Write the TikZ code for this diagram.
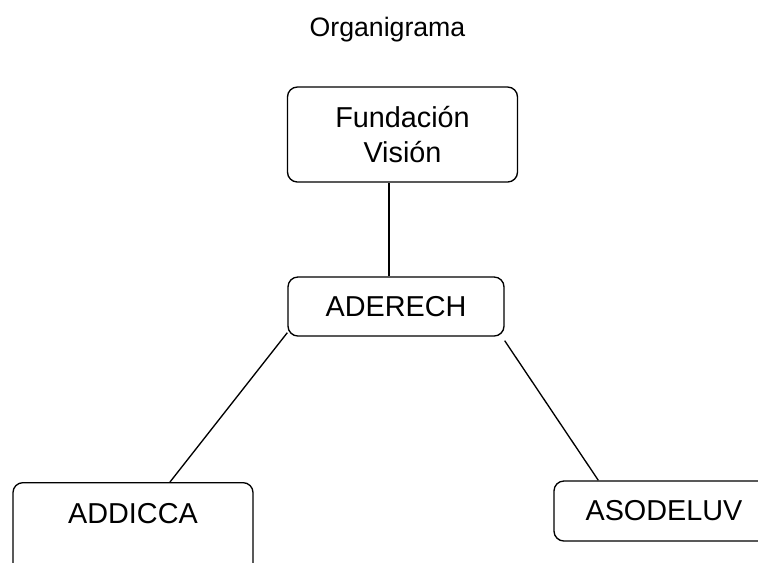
\documentclass[tikz,border=0pt]{standalone}
\usepackage{fontspec}
\setmainfont{Liberation Sans}
\usetikzlibrary{positioning}
\tikzset{
  box/.style    = { rectangle, inner sep=0pt },
  border/.style = { line width=1pt, draw=black },
  round/.style  = { rounded corners=2.6mm },
}
\tikzset{
  unit/.style  = { box, border, round, align=center,
                   font=\fontsize{21.6}{26}\selectfont },
  title/.style = { font=\fontsize{20}{24}\selectfont },
  link/.style  = { line width=1pt, draw=black }
}
\begin{document}
\begin{tikzpicture}[x=0.75pt,y=-0.75pt]
  \useasboundingbox (0,0) rectangle (758,562);
  \node (title)     [title,anchor=base] at (387.5,36.5) {Organigrama};
  \node (fundacion) [unit,minimum width=172.5pt,minimum height=71.25pt] at (402.5,134.5) {Fundación\\Visión};
  \node (aderech)   [unit,minimum width=162pt,minimum height=44.25pt]  at (396,306.5)   {ADERECH};
  \node (addicca)   [unit,minimum width=180pt,anchor=north,inner ysep=15pt,
                     text height=15.5pt,text depth=60pt]              at (133,482)     {ADDICCA};
  \node (asodeluv)  [unit,minimum width=165pt,minimum height=45pt]    at (664,511)     {ASODELUV};

  \draw [link] ([xshift=-5.25pt]aderech.north) -- ([xshift=-5.25pt]aderech.north |- fundacion.south);
  \draw [link] ([yshift=3pt]aderech.south west) -- ([xshift=27.75pt]addicca.north);
  \draw [link] ([yshift=-3pt]aderech.south east) -- ([xshift=33.75pt]asodeluv.north west);
\end{tikzpicture}
\end{document}
